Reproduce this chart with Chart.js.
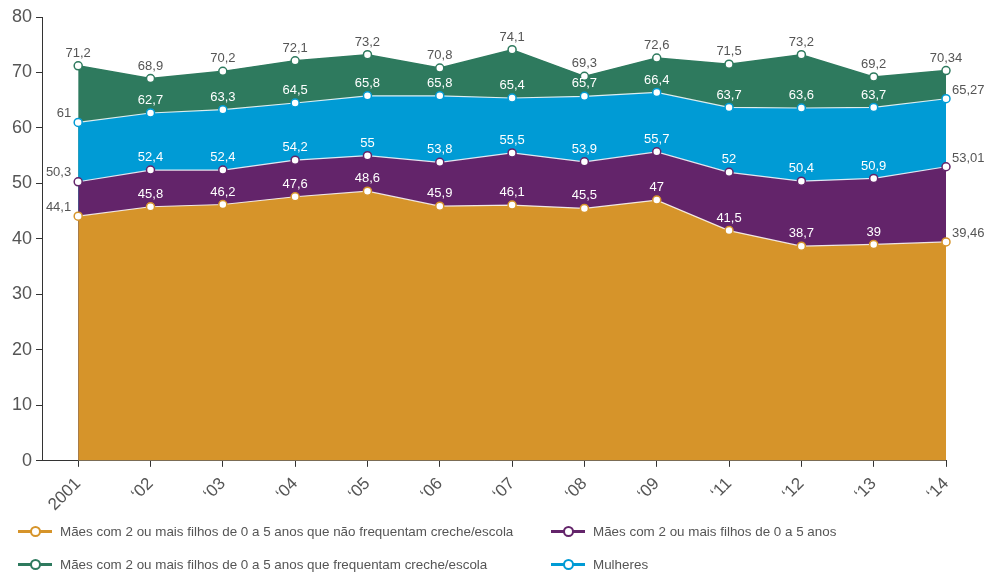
<!DOCTYPE html>
<html>
<head>
<meta charset="utf-8">
<script src="https://cdn.jsdelivr.net/npm/chart.js@4.4.1/dist/chart.umd.min.js"></script>
<style>
  html, body { margin: 0; padding: 0; background: #fff; }
  #wrap { position: relative; width: 988px; height: 572px; }
  #legend { position: absolute; left: 0; top: 0; width: 988px; height: 572px; pointer-events: none;
            font-family: "Liberation Sans", Arial, sans-serif; font-size: 13.4px; color: #555; }
  .item { position: absolute; display: flex; align-items: center; height: 16px; white-space: nowrap; }
  .mk { position: relative; width: 34px; height: 16px; margin-right: 8px; }
  .mk .ln { position: absolute; left: 0; right: 0; top: 6.5px; height: 3px; }
  .mk .dot { position: absolute; left: 12px; top: 3px; width: 7px; height: 7px; border-radius: 50%; background: #fff; border: 2px solid; }
</style>
</head>
<body>
<div id="wrap">
  <canvas id="c" width="988" height="572"></canvas>
  <div id="legend"></div>
</div>
<script>
const categories = ["2001", "‘02", "‘03", "‘04", "‘05", "‘06", "‘07", "‘08", "‘09", "‘11", "‘12", "‘13", "‘14"];
const naoFrequentam = [44.1, 45.8, 46.2, 47.6, 48.6, 45.9, 46.1, 45.5, 47, 41.5, 38.7, 39, 39.46];
const maesFilhos = [50.3, 52.4, 52.4, 54.2, 55, 53.8, 55.5, 53.9, 55.7, 52, 50.4, 50.9, 53.01];
const mulheres = [61, 62.7, 63.3, 64.5, 65.8, 65.8, 65.4, 65.7, 66.4, 63.7, 63.6, 63.7, 65.27];
const frequentam = [71.2, 68.9, 70.2, 72.1, 73.2, 70.8, 74.1, 69.3, 72.6, 71.5, 73.2, 69.2, 70.34];
const seriesNames = [
  "Mães com 2 ou mais filhos de 0 a 5 anos que não frequentam creche/escola",
  "Mães com 2 ou mais filhos de 0 a 5 anos",
  "Mulheres",
  "Mães com 2 ou mais filhos de 0 a 5 anos que frequentam creche/escola"
];
const yTicks = [0, 10, 20, 30, 40, 50, 60, 70, 80];

const COLORS = ["#D6942A", "#63246A", "#009BD5", "#2E7A5E"];
const allValues = [naoFrequentam, maesFilhos, mulheres, frequentam];
const FONT = "'Liberation Sans', Arial, sans-serif";

const datasets = allValues.map((vals, k) => ({
  label: seriesNames[k],
  data: vals.map((v, i) => ({ x: i, y: v })),
  fill: 'origin',
  backgroundColor: COLORS[k],
  borderColor: k === 3 ? COLORS[k] : 'rgba(255,255,255,0.85)',
  borderWidth: k === 3 ? 1.5 : 1.2,
  pointRadius: 4,
  pointBorderWidth: 1.5,
  pointBorderColor: COLORS[k],
  pointBackgroundColor: '#fff',
  tension: 0,
  clip: false
}));

const labelPlugin = {
  id: 'vlabels',
  afterDatasetsDraw(chart) {
    const ctx = chart.ctx;
    ctx.save();
    ctx.font = "13px " + FONT;
    ctx.textBaseline = 'middle';
    chart.data.datasets.forEach((ds, di) => {
      const meta = chart.getDatasetMeta(di);
      const vals = allValues[di];
      const last = vals.length - 1;
      meta.data.forEach((pt, i) => {
        const txt = String(vals[i]).replace('.', ',');
        let x = pt.x, y = pt.y - 12.5, align = 'center', color = '#fff';
        if (di === 3) { color = '#555'; }
        else if (i === 0) { align = 'right'; x = pt.x - 7; y = pt.y - 9; color = '#555'; }
        else if (i === last) { align = 'left'; x = pt.x + 6; y = pt.y - 8; color = '#555'; }
        ctx.fillStyle = color;
        ctx.textAlign = align;
        ctx.fillText(txt, x, y);
      });
    });
    ctx.restore();
  }
};

new Chart(document.getElementById('c'), {
  type: 'line',
  data: { datasets },
  options: {
    responsive: false,
    animation: false,
    layout: { padding: { left: 8, right: 42, top: 17, bottom: 50 } },
    plugins: { legend: { display: false }, tooltip: { enabled: false } },
    scales: {
      x: {
        type: 'linear',
        min: -0.5, max: categories.length - 1,
        border: { display: true, color: '#333', width: 1 },
        grid: { drawOnChartArea: false, drawTicks: true, tickLength: 6, color: '#333' },
        ticks: {
          stepSize: 1, includeBounds: false, autoSkip: false,
          minRotation: 45, maxRotation: 45, padding: 7,
          color: '#555', font: { family: FONT, size: 17 },
          callback: (v) => (Number.isInteger(v) && categories[v] !== undefined) ? categories[v] : ''
        }
      },
      y: {
        min: 0, max: 80,
        afterBuildTicks: (s) => { s.ticks = yTicks.map(v => ({ value: v })); },
        border: { display: true, color: '#333', width: 1 },
        grid: { drawOnChartArea: false, drawTicks: true, tickLength: 6, color: '#333' },
        ticks: { color: '#555', padding: 4, font: { family: FONT, size: 18 } }
      }
    }
  },
  plugins: [labelPlugin]
});

// HTML legend
const legendPos = [
  { k: 0, left: 18, top: 523 },
  { k: 1, left: 551, top: 523 },
  { k: 3, left: 18, top: 556 },
  { k: 2, left: 551, top: 556 }
];
const lg = document.getElementById('legend');
legendPos.forEach(p => {
  const it = document.createElement('div');
  it.className = 'item';
  it.style.left = p.left + 'px';
  it.style.top = p.top + 'px';
  it.innerHTML = '<span class="mk"><span class="ln" style="background:' + COLORS[p.k] + '"></span><span class="dot" style="border-color:' + COLORS[p.k] + '"></span></span><span></span>';
  it.lastChild.textContent = seriesNames[p.k];
  lg.appendChild(it);
});
</script>
</body>
</html>
